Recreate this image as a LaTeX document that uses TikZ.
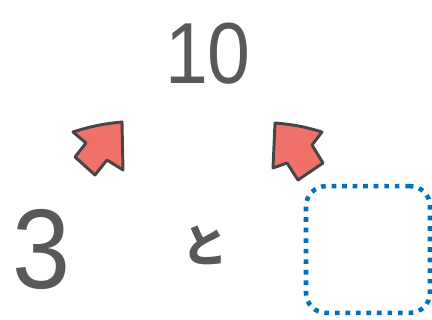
\documentclass[tikz,border=0pt]{standalone}
\usepackage{fontspec}
\setmainfont{Liberation Sans}
\newfontfamily\cjk{Noto Sans CJK JP}
\usepackage{tikz}
\definecolor{numgray}{HTML}{595959}
\definecolor{arrowfill}{HTML}{F0716A}
\definecolor{arrowline}{HTML}{454545}
\definecolor{boxblue}{HTML}{0070C0}
\tikzset{
  every picture/.style={line join=round, line cap=round},
  digit/.style={text=numgray, inner sep=0pt},
  fatarrow/.style={fill=arrowfill, draw=arrowline, line width=2.2pt},
  blankbox/.style={draw=boxblue, line width=3.4pt, line cap=butt, dash pattern=on 3.5pt off 4.4pt,
    rounded corners=15pt, minimum width=93pt, minimum height=95pt, inner sep=0pt},
}

\begin{document}
\begin{tikzpicture}[x=0.75pt,y=-0.75pt]
\useasboundingbox (0,0) rectangle (432,320);
\node[digit,font=\fontsize{65}{65}\selectfont] (ten) at (208,54) {\scalebox{0.89}[1]{10}};
\node[digit,font=\fontsize{85}{85}\selectfont] (three) at (41,249) {\scalebox{0.92}[1]{3}};
\node[digit,font=\cjk\bfseries\fontsize{34}{34}\selectfont] (to) at (205,245) {と};
\node[blankbox] (blank) at (368,249.5) {};
% arrows up to the sum
\draw[fatarrow] (122,122) -- (123,170) -- (107,160) -- (95,175) -- (75,157) -- (86,143) -- (73,132) to[bend left=6] cycle;
\draw[fatarrow] (275,123) to[bend left=6] (322,132) -- (312,145) -- (323,163) -- (298,180) -- (287,163) -- (273,168) -- cycle;
\end{tikzpicture}
\end{document}
